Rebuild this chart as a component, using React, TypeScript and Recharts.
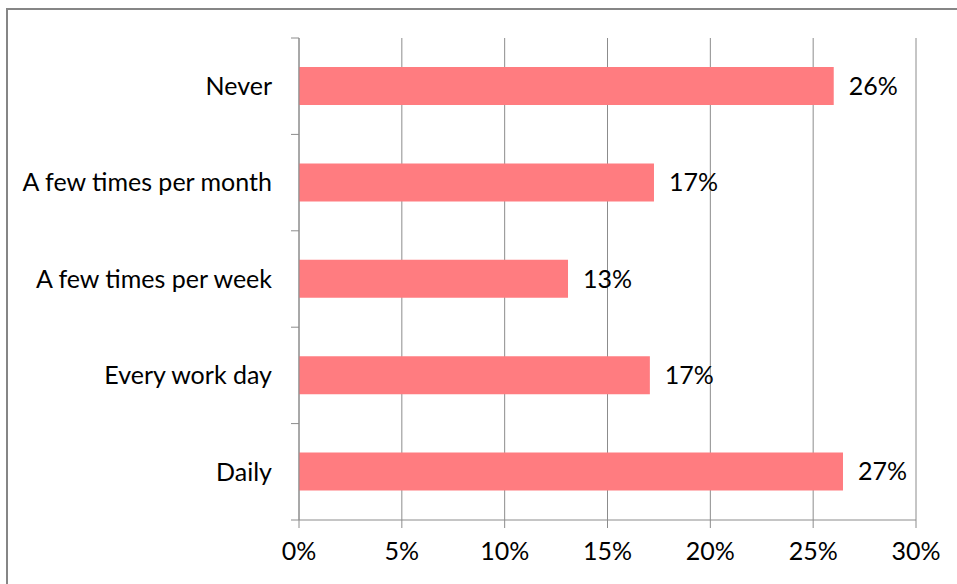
import { BarChart, Bar, XAxis, YAxis, CartesianGrid, LabelList } from 'recharts';

const categories = ['Never', 'A few times per month', 'A few times per week', 'Every work day', 'Daily'];
const shares = [0.26, 0.1726, 0.1308, 0.1706, 0.2645];
const shareLabels = ['26%', '17%', '13%', '17%', '27%'];
const xTicks = [0, 0.05, 0.1, 0.15, 0.2, 0.25, 0.3];

const data = categories.map((name, i) => ({ name, value: shares[i], label: shareLabels[i] }));

const FONT = 'Lato, "Open Sans", sans-serif';
const GRID = '#8c8c8c';
const TICK_LEN = 8;
const TICK_GAP = 19;

// Excel puts category tick marks between the bands, so draw them at the band edges
function CategoryTick(props: any) {
  const { x, y, payload, index, visibleTicksCount } = props;
  const axisX = x + TICK_GAP + TICK_LEN;
  const half = payload.offset || 0;
  const isLast = index === visibleTicksCount - 1;
  return (
    <g>
      <line x1={axisX - TICK_LEN} x2={axisX} y1={y - half} y2={y - half} stroke={GRID} />
      {isLast && <line x1={axisX - TICK_LEN} x2={axisX} y1={y + half} y2={y + half} stroke={GRID} />}
      <text x={x} y={y} dy="0.35em" textAnchor="end" fill="#000" fontSize={25} fontFamily={FONT}>
        {payload.value}
      </text>
    </g>
  );
}

export default function App() {
  return (
    <div style={{ position: 'relative', width: 957, height: 584, overflow: 'hidden', background: '#fff' }}>
      <style>{'body{margin:0;overflow:hidden}'}</style>
      <div
        style={{
          position: 'absolute',
          left: 6,
          top: 8,
          width: 1000,
          height: 700,
          borderTop: '2px solid #868686',
          borderLeft: '2px solid #868686',
        }}
      />
      <div style={{ position: 'absolute', left: 0, top: 0 }}>
        <BarChart
          width={957}
          height={584}
          data={data}
          layout="vertical"
          margin={{ top: 38, right: 41, bottom: 0, left: 0 }}
          barSize={38}
          style={{ fontFamily: FONT }}
        >
          <CartesianGrid horizontal={false} vertical stroke={GRID} />
          <XAxis
            type="number"
            domain={[0, 0.3]}
            ticks={xTicks}
            height={64}
            tickFormatter={(v: number) => `${Math.round(v * 100)}%`}
            stroke={GRID}
            tickSize={8}
            tickMargin={14}
            tick={{ fill: '#000', fontSize: 25, fontFamily: FONT }}
          />
          <YAxis
            type="category"
            dataKey="name"
            width={299}
            stroke={GRID}
            tickLine={false}
            tickSize={TICK_LEN}
            tickMargin={TICK_GAP}
            interval={0}
            tick={<CategoryTick />}
          />
          <Bar dataKey="value" fill="#FF7C80" isAnimationActive={false}>
            <LabelList
              dataKey="label"
              position="right"
              offset={15}
              style={{ fill: '#000', fontSize: 25, fontFamily: FONT }}
            />
          </Bar>
        </BarChart>
      </div>
    </div>
  );
}
